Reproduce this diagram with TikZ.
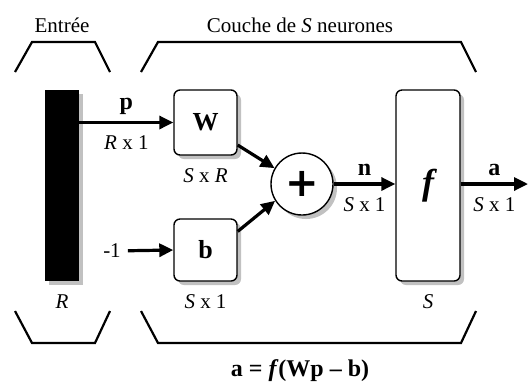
\documentclass[tikz,border=0pt]{standalone}
\usepackage{fontspec}
\setmainfont{Liberation Serif}
\newfontfamily\plusfont{DejaVu Sans}
\usetikzlibrary{arrows.meta,positioning,shadows,calc}

\begin{document}
\begin{tikzpicture}[x=0.5pt,y=-0.5pt,
    font=\fontsize{10.5}{12}\selectfont,
    shade box/.style={drop shadow={shadow xshift=2pt,shadow yshift=-2pt,
        fill=black!35,opacity=0.7}},
    blockbox/.style={draw,rounded corners=3pt,fill=white,line width=0.7pt,
        shade box,font=\fontsize{13}{15}\selectfont\bfseries},
    sig/.style={line width=1.6pt,-{Triangle[length=7pt,width=6.5pt]}},
    toplab/.style={above,font=\bfseries\fontsize{12}{14}\selectfont},
    botlab/.style={below,yshift=-2.5pt},
    brace/.style={line width=1.1pt}]
  \useasboundingbox (0,0) rectangle (528,382);

  % Titles
  \node (entree) at (62,25) {Entrée};
  \node (couche) at (300,25) {Couche de \textit{S} neurones};

  % Brackets
  \foreach \l/\r in {15/110,141/476} {
    \draw[brace] (\l,72) -- (\l+17,42) -- (\r-15,42) -- (\r,72);
    \draw[brace] (\l,311) -- (\l+17,343) -- (\r-15,343) -- (\r,311);
  }

  % Input
  \node[fill=black,inner sep=0,minimum width=17pt,minimum height=95.5pt,
        shade box] (inbar) at (62,185.5) {};
  \node[below=3pt of inbar] (rlab) {\textit{R}};

  % Weights and bias
  \node[blockbox,minimum width=31.5pt,minimum height=32.5pt] (wbox) at (205.5,122.5) {W};
  \node[blockbox,minimum width=31.5pt,minimum height=31pt] (bbox) at (205.5,250) {b};
  \node[below=3pt of wbox] (wlab) {\textit{S} x \textit{R}};
  \node[below=3pt of bbox] (blab) {\textit{S} x 1};
  \node (minus) at (112,251) {-1};

  % Sum and transfer function
  \node[blockbox,circle,inner sep=0,minimum size=31pt,
        font=\fontsize{20}{22}\selectfont\plusfont\bfseries] (sum) at (302,184) {+};
  \node[blockbox,minimum width=32pt,minimum height=95.5pt,
        font=\fontsize{18}{20}\selectfont\bfseries\itshape] (fbox) at (428,185.5) {f};
  \node[below=3pt of fbox] (slab) {\textit{S}};
  \coordinate (aout) at (528,184);

  % Signals
  \draw[sig] (inbar.east |- wbox.west) -- node[toplab] {p}
    node[botlab] {\textit{R} x 1} (wbox.west);
  \draw[sig] (minus) -- (bbox.west);
  \draw[sig] (wbox.-35) -- (sum.150);
  \draw[sig] (bbox.30) -- (sum.212);
  \draw[sig] (sum.east) -- node[toplab] {n}
    node[botlab] {\textit{S} x 1} (fbox.west |- sum.east);
  \draw[sig] (fbox.east |- sum.east) -- node[toplab] {a}
    node[botlab] {\textit{S} x 1} (aout);

  % Formula
  \node[font=\bfseries\fontsize{12}{14}\selectfont] (formula) at (300,371)
    {a = \textit{f}(Wp – b)};
\end{tikzpicture}
\end{document}
